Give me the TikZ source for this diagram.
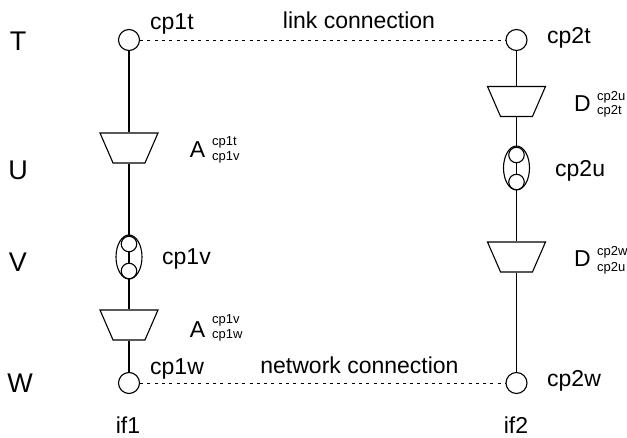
\documentclass[tikz,border=0pt]{standalone}
\usepackage{fontspec}
\setmainfont{Liberation Sans}
\usetikzlibrary{shapes.geometric}
\tikzset{
  port/.style={draw,circle,inner sep=0pt,minimum size=21pt,line width=1.1pt},
  inner port/.style={draw,circle,inner sep=0pt,minimum size=15.5pt,line width=1.1pt},
  group/.style={draw,ellipse,inner sep=0pt,minimum width=26pt,minimum height=44pt,line width=1.1pt},
  adapt/.style={draw,trapezium,shape border rotate=180,trapezium stretches body=true,inner sep=1pt,
    text height=28pt,text depth=0pt,minimum width=58pt,minimum height=30pt,trapezium angle=66.5,line width=1.1pt},
  wire/.style={line width=1.1pt},
  link/.style={line width=.9pt,dash pattern=on 3pt off 4.3pt},
  layer/.style={font=\fontsize{27}{27}\selectfont,inner sep=0pt,text height=19.5pt,text depth=0pt},
  big/.style={font=\fontsize{23}{23}\selectfont,inner sep=0pt,text height=16.5pt,text depth=0pt},
  small/.style={font=\fontsize{13}{13}\selectfont,inner sep=0pt,anchor=west,text height=9.3pt,text depth=0pt}
}
\begin{document}
\begin{tikzpicture}[x=1pt,y=-1pt]
  \useasboundingbox (0,0) rectangle (627,438);

  \node[layer] (layerT) at (18,41) {T};
  \node[layer] (layerU) at (18,170) {U};
  \node[layer] (layerV) at (18,262) {V};
  \node[layer] (layerW) at (20,383) {W};

  \node[port] (cp1t) at (129,40) {};
  \node[adapt] (adapt1) at (129,148) {};
  \node[group] (cp1vgroup) at (129,257) {};
  \node[inner port] (cp1va) at (129,244) {};
  \node[inner port] (cp1vb) at (129,271) {};
  \node[adapt] (adapt2) at (129,325) {};
  \node[port] (cp1w) at (129,383) {};

  \node[port] (cp2t) at (516.5,40) {};
  \node[adapt] (deadapt1) at (516.5,101.5) {};
  \node[group] (cp2ugroup) at (516.5,168) {};
  \node[inner port] (cp2ua) at (516.5,155) {};
  \node[inner port] (cp2ub) at (516.5,182) {};
  \node[adapt] (deadapt2) at (516.5,257) {};
  \node[port] (cp2w) at (516.5,383) {};

  \draw[wire] (cp1t) -- (adapt1);
  \draw[wire] (adapt1) -- (cp1va);
  \draw[wire] (cp1va) -- (cp1vb);
  \draw[wire] (cp1vb) -- (adapt2);
  \draw[wire] (adapt2) -- (cp1w);
  \draw[wire] (cp2t) -- (deadapt1);
  \draw[wire] (deadapt1) -- (cp2ua);
  \draw[wire] (cp2ua) -- (cp2ub);
  \draw[wire] (cp2ub) -- (deadapt2);
  \draw[wire] (deadapt2) -- (cp2w);
  \draw[link] (cp1t) -- (cp2t);
  \draw[link] (cp1w) -- (cp2w);

  \node[big,anchor=west] (lblcp1t) at (150,21.5) {cp1t};
  \node[big,anchor=west] (lblcp1v) at (162,256) {cp1v};
  \node[big,anchor=west] (lblcp1w) at (150,366.5) {cp1w};
  \node[big,anchor=west] (lblcp2t) at (547,35) {cp2t};
  \node[big,anchor=west] (lblcp2u) at (555,168) {cp2u};
  \node[big,anchor=west] (lblcp2w) at (547,378) {cp2w};
  \node[big] (lbllink) at (359,20.5) {link connection};
  \node[big] (lblnet) at (359.5,365) {network connection};
  \node[big] (if1) at (128,425) {if1};
  \node[big] (if2) at (516,425) {if2};

  \node[big] (lblA1) at (197.5,149) {A};
  \node[small] (a1top) at (212,140.5) {cp1t};
  \node[small] (a1bot) at (212,156) {cp1v};
  \node[big] (lblA2) at (197.5,329) {A};
  \node[small] (a2top) at (212,319) {cp1v};
  \node[small] (a2bot) at (212,334) {cp1w};
  \node[big] (lblD1) at (582.5,103) {D};
  \node[small] (d1top) at (597,95.5) {cp2u};
  \node[small] (d1bot) at (597,110) {cp2t};
  \node[big] (lblD2) at (582.5,258.7) {D};
  \node[small] (d2top) at (597,251) {cp2w};
  \node[small] (d2bot) at (597,267) {cp2u};
\end{tikzpicture}
\end{document}
